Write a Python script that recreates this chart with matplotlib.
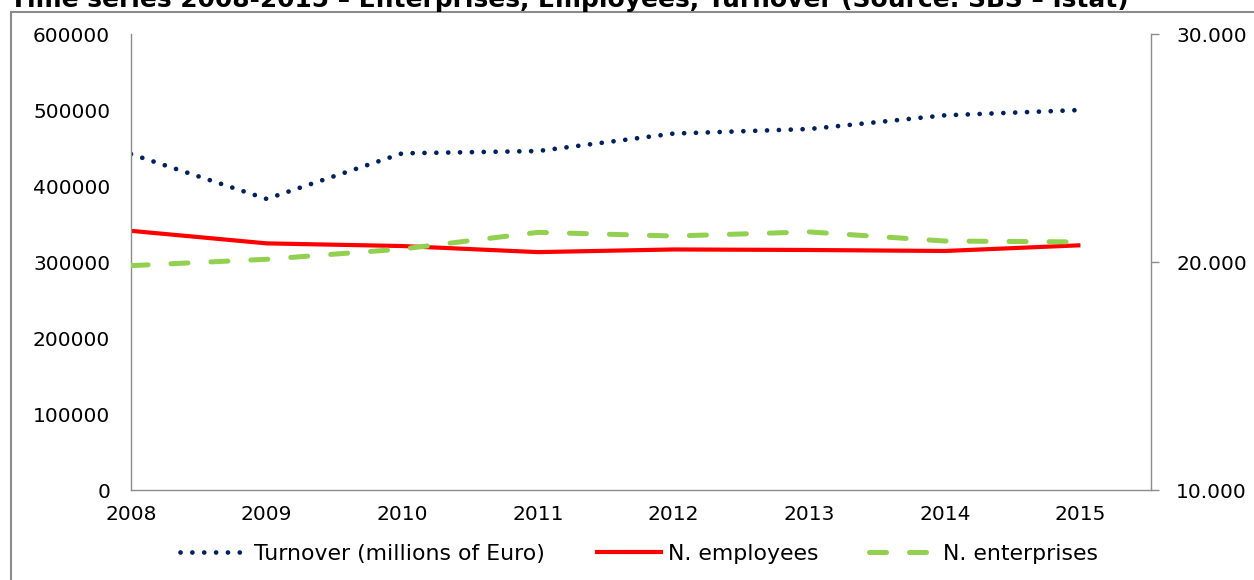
import matplotlib
matplotlib.use("Agg")
import matplotlib.pyplot as plt
from matplotlib.patches import Rectangle

years = [2008, 2009, 2010, 2011, 2012, 2013, 2014, 2015]
turnover = [442000, 383000, 443000, 446000, 469000, 475000, 493000, 500000]
employees = [341000, 324500, 321000, 313000, 316500, 315800, 314500, 322000]
enterprises = [19840, 20120, 20570, 21300, 21140, 21320, 20920, 20880]

left_ticks = [0, 100000, 200000, 300000, 400000, 500000, 600000]
right_ticks = [10000, 20000, 30000]
right_labels = ["10.000", "20.000", "30.000"]

title = "Time series 2008-2015 \u2013 Enterprises, Employees, Turnover (Source: SBS \u2013 Istat)"

plt.rcParams['font.family'] = ['DejaVu Sans']
W, H = 1254, 580
fig = plt.figure(figsize=(W / 100, H / 100), dpi=100)
ax = fig.add_axes([131 / W, 1 - 490 / H, (1151 - 131) / W, (490 - 34) / H])
ax2 = ax.twinx()

navy = "#002060"
red = "#FF0000"
green = "#92D050"
gray = "#8C8C8C"

l1, = ax.plot(years, turnover, color=navy, lw=3.4, linestyle=(0, (0.01, 2.5)),
              dash_capstyle='round', label="Turnover (millions of Euro)")
l2, = ax.plot(years, employees, color=red, lw=3.0, solid_capstyle='butt',
              label="N. employees")
l3, = ax2.plot(years, enterprises, color=green, lw=3.6, linestyle=(0, (3.4, 4.6)),
               dash_capstyle='round', label="N. enterprises")

ax.set_xlim(2008, 2015.52)
ax.set_ylim(0, 600000)
ax2.set_ylim(10000, 30000)

ax.set_yticks(left_ticks)
ax.set_yticklabels([str(v) for v in left_ticks])
ax.set_xticks(years)
ax.set_xticklabels([str(y) for y in years])
ax2.set_yticks(right_ticks)
ax2.set_yticklabels(right_labels)

fs = 14.5
ax.tick_params(axis='y', length=0, pad=15, labelsize=fs, colors='black')
ax.tick_params(axis='x', length=0, pad=11, labelsize=fs, colors='black')
ax2.tick_params(axis='y', length=6, width=1, color=gray, pad=12, labelsize=fs)

for a in (ax, ax2):
    a.spines['top'].set_visible(False)
    for s in ('left', 'right', 'bottom'):
        a.spines[s].set_color(gray)
        a.spines[s].set_linewidth(1.0)
ax.spines['right'].set_visible(False)
ax2.spines['left'].set_visible(False)
ax2.spines['bottom'].set_visible(False)

fig.legend(handles=[l1, l2, l3], loc='center', bbox_to_anchor=(639 / W, 1 - 554 / H),
           ncol=3, frameon=False, fontsize=15.8, handlelength=3.1, handletextpad=0.25,
           columnspacing=2.3)

fig.text(10 / W, 1 - 7 / H, title, fontsize=17.9, fontweight='bold', va='baseline',
         ha='left')

fig.patches.append(Rectangle((11 / W, -0.05), 1.2, 1 - 12 / H + 0.05, transform=fig.transFigure,
                             fill=False, edgecolor=gray, lw=1.5))

fig.savefig("out.png", dpi=100)
